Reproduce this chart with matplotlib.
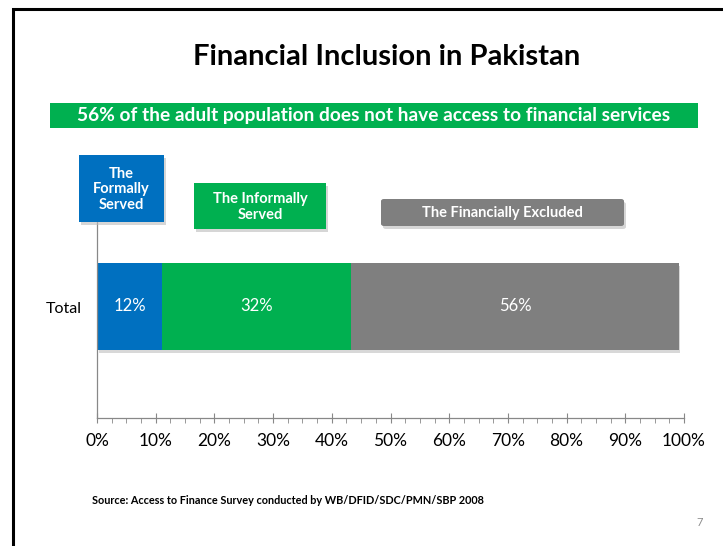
import matplotlib
matplotlib.use("Agg")
import matplotlib.pyplot as plt
from matplotlib.patches import Rectangle, FancyBboxPatch
from matplotlib.ticker import MultipleLocator, PercentFormatter

# data
categories = ["Total"]
segment_names = ["The\nFormally\nServed", "The Informally\nServed", "The Financially Excluded"]
segment_values = [11.1, 32.2, 55.8]
segment_labels = ["12%", "32%", "56%"]
segment_colors = ["#0070C0", "#00B050", "#7F7F7F"]

title = "Financial Inclusion in Pakistan"
banner = "56% of the adult population does not have access to financial services"
source = "Source: Access to Finance Survey conducted by WB/DFID/SDC/PMN/SBP 2008"
page_no = "7"

W, H = 723, 546
plt.rcParams['font.family'] = ['Lato', 'DejaVu Sans']

fig = plt.figure(figsize=(W / 100, H / 100), dpi=100)


def fx(px):
    return px / W


def fy(py):
    return 1 - py / H


# slide border (runs off the right and bottom edge)
fig.patches.append(Rectangle((fx(13), fy(560)), fx(730), 551 / H,
                             transform=fig.transFigure, fill=False,
                             edgecolor="black", linewidth=2.2))

fig.text(fx(387), fy(57), title, ha="center", va="center",
         fontsize=21, fontweight="bold")

# green banner
fig.patches.append(Rectangle((fx(50), fy(128)), fx(648), 25 / H,
                             transform=fig.transFigure, facecolor="#00B050",
                             edgecolor="none"))
fig.text(fx(374), fy(115.5), banner, ha="center", va="center",
         fontsize=13.8, fontweight="bold", color="white")

# bar chart
ax = fig.add_axes([fx(97), fy(418), fx(587), 196 / H])
left = 0
for val in segment_values:
    # soft shadow under the bar
    ax.barh(-0.02, val, left=left + 0.3, height=0.8, color="#d8d8d8", zorder=1)
    left += val
left = 0
for val, lab, col in zip(segment_values, segment_labels, segment_colors):
    ax.barh(0.012, val, left=left, height=0.8, color=col, zorder=2)
    ax.text(left + val / 2, 0.012, lab, ha="center", va="center",
            color="white", fontsize=12, zorder=3)
    left += val

ax.set_xlim(0, 100)
ax.set_ylim(-1.016, 0.786)
ax.set_yticks([0])
ax.set_yticklabels(categories, fontsize=11.5)
ax.tick_params(axis="y", length=0, pad=11)
ax.xaxis.set_major_locator(MultipleLocator(10))
ax.xaxis.set_minor_locator(MultipleLocator(2.5))
ax.xaxis.set_major_formatter(PercentFormatter(decimals=0))
ax.tick_params(axis="x", which="major", direction="inout", length=7,
               color="#888888", labelsize=12.5, pad=7)
ax.tick_params(axis="x", which="minor", direction="out", length=3.5,
               color="#888888")
for s in ["top", "right"]:
    ax.spines[s].set_visible(False)
for s in ["bottom", "left"]:
    ax.spines[s].set_color("#888888")
    ax.spines[s].set_linewidth(0.9)


# callout boxes over the chart
def callout(x0, y0, x1, y1, text, color, rounded=False):
    style = "round,pad=0,rounding_size=0.004" if rounded else "square,pad=0"
    fig.patches.append(FancyBboxPatch((fx(x0 + 2), fy(y1 + 3)), fx(x1 - x0), (y1 - y0) / H,
                                      boxstyle=style, transform=fig.transFigure,
                                      facecolor="#bbbbbb", edgecolor="none",
                                      alpha=0.6, zorder=5))
    fig.patches.append(FancyBboxPatch((fx(x0), fy(y1)), fx(x1 - x0), (y1 - y0) / H,
                                      boxstyle=style, transform=fig.transFigure,
                                      facecolor=color, edgecolor="none", zorder=6))
    fig.text(fx((x0 + x1) / 2), fy((y0 + y1) / 2 + 1), text, ha="center",
             va="center", color="white", fontweight="bold", fontsize=10.5,
             linespacing=1.1, zorder=7)


callout(79, 155, 164, 222, segment_names[0], segment_colors[0])
callout(194, 183, 326, 229, segment_names[1], segment_colors[1])
callout(381, 199, 624, 226, segment_names[2], segment_colors[2], rounded=True)

fig.text(fx(92), fy(500), source, ha="left", va="center", fontsize=7.8,
         fontweight="bold")
fig.text(fx(700), fy(523), page_no, ha="center", va="center", fontsize=8,
         color="#8c8c8c")

fig.savefig("out.png", dpi=100)
